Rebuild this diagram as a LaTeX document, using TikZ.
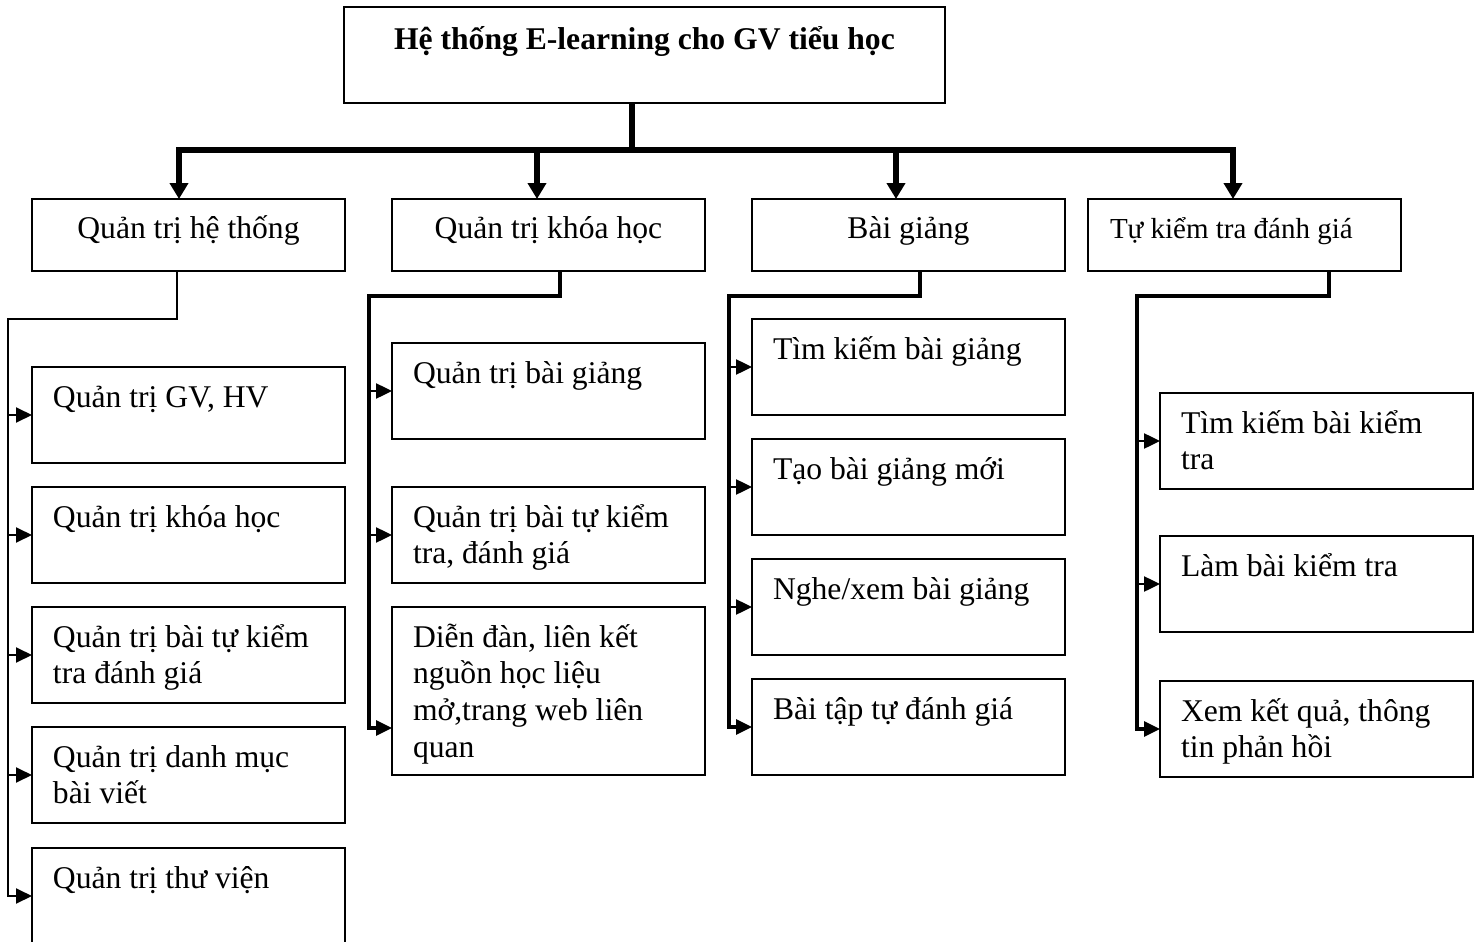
\documentclass[tikz,border=0pt]{standalone}
\usepackage{fontspec}
\setmainfont{Liberation Serif}
\usetikzlibrary{arrows.meta}

\tikzset{
  box/.style={draw, line width=1pt, anchor=north west, outer sep=0pt, inner ysep=0pt,
    execute at begin node={\spaceskip=.25em\xspaceskip=.25em\relax}},
  rootbox/.style={box, inner xsep=0.4cm, text width=11.22cm, align=center,
    text height=0.86cm, text depth=1.06cm, font=\fontsize{18pt}{21pt}\selectfont\bfseries},
  headbox/.style={box, inner xsep=0.44cm, text width=5.38cm, align=center,
    text height=0.78cm, text depth=0.66cm},
  leafbox/.style={box, inner xsep=0.42cm, text width=5.42cm, align=left,
    text height=0.8cm, text depth=1.12cm},
  bus/.style={line width=3.5pt},
  busarrow/.style={line width=3.3pt, -{Triangle[length=0.32cm,width=0.36cm]}},
  trunk/.style={line width=1.8pt},
  thintrunk/.style={line width=1.1pt},
  sidearrow/.style={-{Triangle[length=0.32cm,width=0.3cm]}},
}

\begin{document}
\begin{tikzpicture}[x=0.02cm, y=-0.02cm, font=\fontsize{18pt}{21pt}\selectfont]
  \useasboundingbox (0,0) rectangle (1481,941);

  % Top box
  \node[rootbox] (heThong) at (344,7) {Hệ thống E-learning cho GV tiểu học};

  % Level 1
  \node[headbox] (qtHT) at (32,199) {Quản trị hệ thống};
  \node[headbox] (qtKH) at (392,199) {Quản trị khóa học};
  \node[headbox] (bGiang) at (752,199) {Bài giảng};
  \node[headbox, align=left, font=\fontsize{16.5pt}{19pt}\selectfont] (tuKT) at (1088,199) {Tự kiểm tra đánh giá};

  % Quan tri he thong
  \node[leafbox] (ht1) at (32,367) {Quản trị GV, HV};
  \node[leafbox] (ht2) at (32,487) {Quản trị khóa học};
  \node[leafbox] (ht3) at (32,607) {Quản trị bài tự kiểm\\tra đánh giá};
  \node[leafbox] (ht4) at (32,727) {Quản trị danh mục\\bài viết};
  \node[leafbox] (ht5) at (32,848) {Quản trị thư viện};

  % Quan tri khoa hoc
  \node[leafbox] (kh1) at (392,343) {Quản trị bài giảng};
  \node[leafbox] (kh2) at (392,487) {Quản trị bài tự kiểm\\tra, đánh giá};
  \node[leafbox, text depth=2.56cm] (kh3) at (392,607) {Diễn đàn, liên kết\\nguồn học liệu\\mở,trang web liên\\quan};

  % Bai giang
  \node[leafbox] (bg1) at (752,319) {Tìm kiếm bài giảng};
  \node[leafbox] (bg2) at (752,439) {Tạo bài giảng mới};
  \node[leafbox] (bg3) at (752,559) {Nghe/xem bài giảng};
  \node[leafbox] (bg4) at (752,679) {Bài tập tự đánh giá};

  % Tu kiem tra danh gia
  \node[leafbox] (kt1) at (1160,393) {Tìm kiếm bài kiểm\\tra};
  \node[leafbox] (kt2) at (1160,536) {Làm bài kiểm tra};
  \node[leafbox] (kt3) at (1160,681) {Xem kết quả, thông\\tin phản hồi};

  % Bus from the top box
  \coordinate (bus) at (632,150);
  \coordinate (b1) at (179,150);
  \coordinate (b2) at (537,150);
  \coordinate (b3) at (896,150);
  \coordinate (b4) at (1233,150);
  \draw[bus] (bus |- heThong.south) -- (bus);
  \draw[bus, line cap=rect] (b1) -- (b4);
  \foreach \b/\n in {b1/qtHT, b2/qtKH, b3/bGiang, b4/tuKT}
    \draw[busarrow] (\b) -- (\b |- \n.north);

  % Column 1 (thin)
  \coordinate (k1) at (177,319);
  \coordinate (k1b) at (8,319);
  \draw[thintrunk, sidearrow] (k1 |- qtHT.south) -- (k1) -- (k1b) |- (ht5.west);
  \foreach \n in {ht1,ht2,ht3,ht4}
    \draw[thintrunk, sidearrow] (k1b |- \n.west) -- (\n.west);

  % Column 2
  \coordinate (k2) at (560,296);
  \coordinate (k2b) at (369,296);
  \coordinate (kh3in) at (392,728);
  \draw[trunk, sidearrow] (k2 |- qtKH.south) -- (k2) -- (k2b) |- (kh3in);
  \foreach \n in {kh1,kh2}
    \draw[sidearrow, line width=1.4pt] (k2b |- \n.west) -- (\n.west);

  % Column 3
  \coordinate (k3) at (920,296);
  \coordinate (k3b) at (729,296);
  \draw[trunk, sidearrow] (k3 |- bGiang.south) -- (k3) -- (k3b) |- (bg4.west);
  \foreach \n in {bg1,bg2,bg3}
    \draw[sidearrow, line width=1.4pt] (k3b |- \n.west) -- (\n.west);

  % Column 4
  \coordinate (k4) at (1329,296);
  \coordinate (k4b) at (1137,296);
  \draw[trunk, sidearrow] (k4 |- tuKT.south) -- (k4) -- (k4b) |- (kt3.west);
  \foreach \n in {kt1,kt2}
    \draw[sidearrow, line width=1.4pt] (k4b |- \n.west) -- (\n.west);
\end{tikzpicture}
\end{document}
